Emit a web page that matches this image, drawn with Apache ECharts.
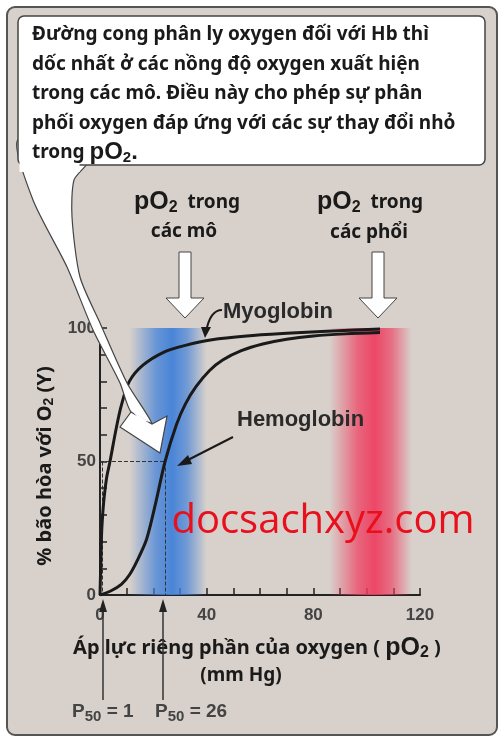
<!DOCTYPE html>
<html><head><meta charset="utf-8">
<script src="https://cdn.jsdelivr.net/npm/echarts@6/dist/echarts.min.js"></script>
<style>html,body{margin:0;padding:0;background:#fff}#c{width:502px;height:739px}</style>
</head><body><div id="c"></div>
<script>
const myoX = [0, 0.3, 0.6, 1, 1.5, 2.5, 3.75, 6, 8, 11, 16, 24, 32, 42, 55, 70, 85, 105];
const myoY = [0, 12, 23, 30, 36, 44, 50, 62, 71, 80, 86, 91, 93.5, 95.6, 97, 98, 98.8, 99.6];
const hbX = [0, 4, 8, 11, 14, 17.5, 21, 24.4, 28.75, 32, 36, 41, 46, 53, 61, 70, 80, 92, 105];
const hbY = [0, 1.5, 4, 7.5, 13, 21, 35, 50, 64, 71.5, 78, 84, 88, 91.5, 94, 95.8, 97, 97.8, 98.3];
const xTicks = [0, 40, 80, 120];
const yTicks = [0, 50, 100];
const tissueBand = [11, 40];
const lungBand = [86, 117];
const p50Labels = ['P{s|50} = 1', 'P{s|50} = 26'];
const p50Marks = [1, 24.4];

const pair = (xs, ys) => xs.map((x, i) => [x, ys[i]]);
const F = '"Noto Sans", sans-serif';
const dark = '#1a1a1a';
const chart = echarts.init(document.getElementById('c'));

function band(range, col) {
  return [{ xAxis: range[0], yAxis: 0, itemStyle: { color: {
    type: 'linear', x: 0, y: 0, x2: 1, y2: 0, colorStops: [
      { offset: 0, color: col + '00' }, { offset: 0.35, color: col + 'bb' },
      { offset: 0.55, color: col + 'ee' }, { offset: 0.75, color: col + 'aa' }, { offset: 1, color: col + '00' }] } } },
    { xAxis: range[1], yAxis: 100 }];
}
const mkRich = (p, s, pad) => ({ p: { fontSize: p, fontWeight: 'bold', color: '#444', fontFamily: 'Arial' },
  s: { fontSize: s, fontWeight: 'bold', color: '#444', padding: [pad, 0, 0, 0], fontFamily: 'Arial' } });

const g = [
  { type: 'rect', z: -10, shape: { x: 7, y: 7, width: 490, height: 728, r: 8 },
    style: { fill: '#d8d1cb', stroke: '#555', lineWidth: 2 } },
  { type: 'polygon', z: 100, shape: { smooth: 0.25, points: [[18, 140], [33, 200], [67, 267], [93, 330], [120, 383], [131, 412], [152, 424], [127, 383], [100, 323], [80, 277], [72, 217], [74, 180], [88, 160]] },
    style: { fill: '#fff', stroke: '#444', lineWidth: 1.2 } },
  { type: 'polygon', z: 100, shape: { points: [[120, 427], [160, 453], [167, 416], [152, 424], [131, 412]] },
    style: { fill: '#fff', stroke: '#444', lineWidth: 1.2 } },
  { type: 'polygon', z: 101, shape: { points: [[133, 412], [150, 422], [140, 420]] }, style: { fill: '#fff' } },
  { type: 'rect', z: 101, shape: { x: 18, y: 16, width: 467, height: 149, r: 6 },
    style: { fill: '#fff', stroke: '#444', lineWidth: 1.5 } },
  { type: 'rect', z: 102, shape: { x: 19.5, y: 140, width: 60, height: 32 }, style: { fill: '#fff' } },
  { type: 'text', z: 103, left: 32, top: 20, style: {
    text: 'Đường cong phân ly oxygen đối với Hb thì\ndốc nhất ở các nồng độ oxygen xuất hiện\ntrong các mô. Điều này cho phép sự phân\nphối oxygen đáp ứng với các sự thay đổi nhỏ\ntrong {p|pO}{s|2}{p|.}',
    font: 'bold 19px ' + F, fill: dark, lineHeight: 29.5, rich: mkRich(24, 15, 10) } },
  ...[185, 378].map(cx => ({ type: 'polygon', z: 100, shape: { points: [
    [cx - 6, 252], [cx + 6, 252], [cx + 6, 298], [cx + 19, 298], [cx, 318], [cx - 19, 298], [cx - 6, 298]] },
    style: { fill: '#fff', stroke: '#444', lineWidth: 1 } })),
  { type: 'text', z: 100, left: 134, top: 190, style: { text: '{p|pO}{s|2}  trong', font: 'bold 19px ' + F, fill: dark, rich: mkRich(25, 16, 10) } },
  { type: 'text', z: 100, x: 184, y: 232, style: { text: 'các mô', font: 'bold 19px ' + F, fill: dark, align: 'center', verticalAlign: 'middle' } },
  { type: 'text', z: 100, left: 317, top: 190, style: { text: '{p|pO}{s|2}  trong', font: 'bold 19px ' + F, fill: dark, rich: mkRich(25, 16, 10) } },
  { type: 'text', z: 100, x: 369, y: 233, style: { text: 'các phổi', font: 'bold 19px ' + F, fill: dark, align: 'center', verticalAlign: 'middle' } },
  { type: 'text', z: 100, x: 223, y: 312, style: { text: 'Myoglobin', font: 'bold 22px Arial', fill: '#2a2a2a', verticalAlign: 'middle' } },
  { type: 'bezierCurve', z: 100, shape: { x1: 222, y1: 310, x2: 206, y2: 332, cpx1: 210, cpy1: 310 }, style: { stroke: dark, lineWidth: 2, fill: null } },
  { type: 'polygon', z: 100, shape: { points: [[201, 327], [211, 327], [205, 338]] }, style: { fill: dark } },
  { type: 'text', z: 100, x: 237, y: 420, style: { text: 'Hemoglobin', font: 'bold 22px Arial', fill: '#2a2a2a', verticalAlign: 'middle' } },
  { type: 'line', z: 100, shape: { x1: 233, y1: 437, x2: 182, y2: 463 }, style: { stroke: dark, lineWidth: 2 } },
  { type: 'polygon', z: 100, shape: { points: [[177, 466], [188, 455], [192, 464]] }, style: { fill: dark } },
  { type: 'text', z: 100, x: 323, y: 522, style: { text: 'docsachxyz.com', font: '40px "Open Sans", sans-serif', fill: '#e8101c', align: 'center', verticalAlign: 'middle' } },
  { type: 'text', z: 100, x: 257, y: 648, style: { text: 'Áp lực riêng phần của oxygen ( {p|pO}{s|2} )', font: 'bold 20px ' + F, fill: dark, align: 'center', verticalAlign: 'middle', rich: mkRich(25, 16, 10) } },
  { type: 'text', z: 100, x: 241, y: 676, style: { text: '(mm Hg)', font: 'bold 19px ' + F, fill: dark, align: 'center', verticalAlign: 'middle' } },
  { type: 'text', z: 100, x: 45, y: 466, rotation: Math.PI / 2, style: { text: '% bão hòa với O{s|2} (Y)', font: 'bold 20px ' + F, fill: dark, align: 'center', verticalAlign: 'middle',
    rich: { s: { fontSize: 14, fontWeight: 'bold', color: dark, padding: [9, 0, 0, 0] } } } },
  ...[[103, p50Labels[0], 72], [163, p50Labels[1], 155]].flatMap(([x, t, lx]) => [
    { type: 'line', z: 100, shape: { x1: x, y1: 700, x2: x, y2: 606 }, style: { stroke: '#333', lineWidth: 1.5 } },
    { type: 'polygon', z: 100, shape: { points: [[x - 4, 612], [x + 4, 612], [x, 599]] }, style: { fill: '#222' } },
    { type: 'text', z: 100, left: lx, top: 702, style: { text: t, font: 'bold 19px Arial', fill: '#444',
      rich: { s: { fontSize: 15, fontWeight: 'bold', color: '#444', fontFamily: 'Arial', padding: [10, 0, 0, 0] } } } }])
];

chart.setOption({
  animation: false,
  grid: { left: 100, right: 82, top: 328, bottom: 144 },
  xAxis: { type: 'value', min: 0, max: 120, interval: 10,
    axisLine: { lineStyle: { color: '#222', width: 2 } },
    axisTick: { inside: true, length: 7, lineStyle: { color: '#222', width: 1.5 } },
    splitLine: { show: false },
    axisLabel: { fontFamily: 'Arial', fontWeight: 'bold', fontSize: 17, color: '#444', margin: 12, showMaxLabel: true,
      formatter: v => xTicks.includes(v) ? String(v) : '' } },
  yAxis: { type: 'value', min: 0, max: 100, interval: 10,
    axisLine: { show: true, lineStyle: { color: '#222', width: 2 } },
    axisTick: { show: true, inside: true, length: 7, lineStyle: { color: '#222', width: 1.5 } },
    splitLine: { show: false },
    axisLabel: { fontFamily: 'Arial', fontWeight: 'bold', fontSize: 17, color: '#444', margin: 4, showMaxLabel: true,
      formatter: v => yTicks.includes(v) ? String(v) : '' } },
  series: [
    { type: 'line', name: 'bands', data: [], markArea: { silent: true, data: [band(tissueBand, '#3f7fd9'), band(lungBand, '#ee3d5f')] } },
    { type: 'line', name: 'Myoglobin', data: pair(myoX, myoY), smooth: 0.3, showSymbol: false, z: 5,
      lineStyle: { color: dark, width: 3 } },
    { type: 'line', name: 'Hemoglobin', data: pair(hbX, hbY), smooth: 0.3, showSymbol: false, z: 5,
      lineStyle: { color: dark, width: 3 },
      markLine: { silent: true, symbol: 'none', label: { show: false }, lineStyle: { color: '#333', type: 'dashed', width: 1 },
        data: [[{ coord: [0, 50] }, { coord: [p50Marks[1], 50] }], [{ coord: [p50Marks[1], 50] }, { coord: [p50Marks[1], 0] }],
               [{ coord: [p50Marks[0], 50] }, { coord: [p50Marks[0], 0] }]] } }
  ],
  graphic: g
});
</script></body></html>
